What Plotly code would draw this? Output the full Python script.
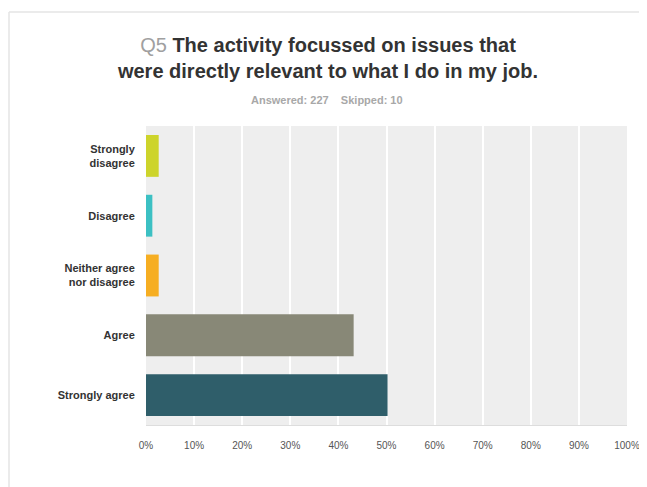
import plotly.graph_objects as go

categories = ["Strongly disagree", "Disagree", "Neither agree nor disagree", "Agree", "Strongly agree"]
labels = ["Strongly<br>disagree", "Disagree", "Neither agree<br>nor disagree", "Agree", "Strongly agree"]
percent = [2.64, 1.32, 2.64, 43.17, 50.22]
colors = ["#cdd42b", "#3cc0c3", "#f6ae22", "#888877", "#2f5e6a"]
tick_vals = [0, 10, 20, 30, 40, 50, 60, 70, 80, 90, 100]
tick_text = ["0%", "10%", "20%", "30%", "40%", "50%", "60%", "70%", "80%", "90%", "100%"]
answered = 227
skipped = 10

W, H = 647, 487
OFF = 8  # page body margin
# target screen positions of the plot area
SL, SR, ST, SB = 146, 627, 126, 425
L = SL - OFF
T = ST - OFF
R = W - (SR - OFF)
B = H - (SB - OFF)
pw, ph = W - L - R, H - T - B

fig = go.Figure()
fig.add_trace(go.Bar(
    x=percent, y=labels, orientation="h",
    marker=dict(color=colors, line=dict(width=0)),
    hoverinfo="x+y",
))

def px2paper_x(px):
    return (px - OFF - L) / pw

def px2paper_y(py):
    return (H - B - (py - OFF)) / ph

fig.update_layout(
    width=W, height=H,
    margin=dict(l=L, r=R, t=T, b=B),
    paper_bgcolor="white",
    plot_bgcolor="#eeeeee",
    bargap=0.3,
    showlegend=False,
    font=dict(family="Liberation Sans, Arial, sans-serif"),
    title=dict(
        text="<span style='color:#a0a0a0'>Q5</span> <b>The activity focussed on issues that</b><br><b>were directly relevant to what I do in my job.</b>",
        x=px2paper_x(328), xanchor="center", xref="paper",
        y=1 - (57 - OFF - 5) / H, yanchor="middle",
        font=dict(size=20, color="#333333", family="Liberation Sans, Arial, sans-serif"),
    ),
    xaxis=dict(
        range=[0, 100], tickvals=tick_vals, ticktext=tick_text,
        showgrid=True, gridcolor="white", gridwidth=1.5,
        zeroline=False, showline=True, linecolor="#dddddd", linewidth=1,
        ticks="outside", ticklen=11, tickcolor="rgba(0,0,0,0)",
        tickfont=dict(size=10, color="#555555"),
        fixedrange=True,
    ),
    yaxis=dict(
        categoryorder="array", categoryarray=labels, autorange="reversed",
        showgrid=False, zeroline=False, showline=False,
        ticks="outside", ticklen=8, tickcolor="rgba(0,0,0,0)",
        tickfont=dict(size=11, color="#333333", family="Liberation Sans, Arial, sans-serif", weight="bold"),
        fixedrange=True,
    ),
    annotations=[dict(
        text=f"<b>Answered: {answered}&nbsp;&nbsp;&nbsp;&nbsp;Skipped: {skipped}</b>",
        xref="paper", yref="paper",
        x=px2paper_x(327), y=px2paper_y(100),
        xanchor="center", yanchor="middle", showarrow=False,
        font=dict(size=11, color="#a8a8a8"),
    )],
    shapes=[
        dict(type="line", xref="paper", yref="paper",
             x0=px2paper_x(9), x1=px2paper_x(W + OFF), y0=px2paper_y(12), y1=px2paper_y(12),
             line=dict(color="#e4e4e4", width=1.5)),
        dict(type="line", xref="paper", yref="paper",
             x0=px2paper_x(9), x1=px2paper_x(9), y0=px2paper_y(12), y1=px2paper_y(H + OFF),
             line=dict(color="#e4e4e4", width=1.5)),
    ],
)

fig.write_html("out.html")
